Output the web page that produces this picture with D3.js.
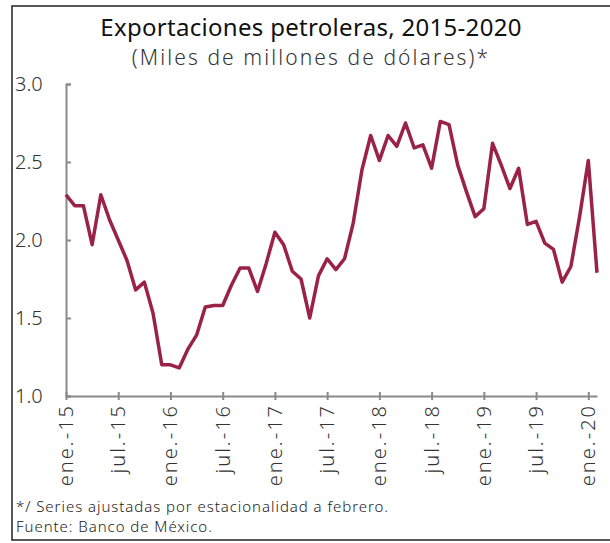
<!DOCTYPE html>
<html>
<head>
<meta charset="utf-8">
<script src="https://cdn.jsdelivr.net/npm/d3@7"></script>
<style>
  body { margin: 0; background: #fff; }
  svg { display: block; font-family: "Noto Sans", sans-serif; }
</style>
</head>
<body>
<div id="chart"></div>
<script>
const W = 610, H = 543;
const margin = { top: 84, right: 13, bottom: 147, left: 66 };

// monthly values, ene-15 .. feb-20
const months = d3.range(62).map(i => new Date(2015, i, 1));
const values = [
  2.29, 2.22, 2.22, 1.97, 2.29, 2.13, 2.00, 1.87, 1.68, 1.73, 1.53, 1.20,
  1.20, 1.18, 1.30, 1.39, 1.57, 1.58, 1.58, 1.71, 1.82, 1.82, 1.67, 1.85,
  2.05, 1.97, 1.80, 1.75, 1.50, 1.77, 1.88, 1.81, 1.88, 2.11, 2.45, 2.67,
  2.51, 2.67, 2.60, 2.75, 2.59, 2.61, 2.46, 2.76, 2.74, 2.48, 2.31, 2.15,
  2.20, 2.62, 2.48, 2.33, 2.46, 2.10, 2.12, 1.98, 1.94, 1.73, 1.83, 2.15,
  2.51, 1.79
];
const monthNames = ["ene.", "feb.", "mar.", "abr.", "may.", "jun.", "jul.", "ago.", "sep.", "oct.", "nov.", "dic."];
const yTicks = [1.0, 1.5, 2.0, 2.5, 3.0];
const title = "Exportaciones petroleras, 2015-2020";
const subtitle = "(Miles de millones de dólares)*";
const notes = ["*/ Series ajustadas por estacionalidad a febrero.", "Fuente: Banco de México."];

const svg = d3.select("#chart").append("svg")
  .attr("width", W)
  .attr("height", H);

// outer frame
svg.append("rect")
  .attr("x", 12).attr("y", 6)
  .attr("width", W + 10).attr("height", 534)
  .attr("fill", "none")
  .attr("stroke", "#222")
  .attr("stroke-width", 1.5);

svg.append("text")
  .attr("x", 311).attr("y", 36)
  .attr("text-anchor", "middle")
  .attr("font-size", 24)
  .attr("letter-spacing", 0.3)
  .attr("fill", "#111")
  .text(title);

svg.append("text")
  .attr("x", 311).attr("y", 65)
  .attr("text-anchor", "middle")
  .attr("font-size", 21)
  .attr("font-weight", 300)
  .attr("letter-spacing", 2.1)
  .attr("fill", "#333")
  .text(subtitle);

// months evenly spaced by index
const xi = d3.scaleLinear().domain([0, months.length - 1]).range([margin.left, 597]);

const y = d3.scaleLinear()
  .domain([1.0, 3.0])
  .range([396, 84]);

// y axis
const yAxis = svg.append("g")
  .attr("transform", `translate(${margin.left},0)`)
  .call(d3.axisRight(y).tickValues(yTicks).tickSize(5).tickFormat(""));
yAxis.select(".domain").attr("stroke", "#8a8a8a").attr("stroke-width", 2);
yAxis.selectAll(".tick line").attr("stroke", "#8a8a8a").attr("stroke-width", 2);

svg.selectAll("text.ylab")
  .data(yTicks)
  .join("text")
  .attr("class", "ylab")
  .attr("x", 15)
  .attr("y", d => y(d) + 7)
  .attr("font-size", 20)
  .attr("font-weight", 300)
  .attr("fill", "#333")
  .text(d => d.toFixed(1));

// x axis
const tickIdx = d3.range(0, 61, 6);
const xAxis = svg.append("g")
  .attr("transform", "translate(0,396)")
  .call(d3.axisBottom(xi).tickValues(tickIdx).tickSize(4).tickSizeOuter(0).tickFormat(""));
xAxis.select(".domain").attr("stroke", "#8a8a8a").attr("stroke-width", 2);
xAxis.selectAll(".tick line")
  .attr("y1", -4)
  .attr("y2", 4)
  .attr("stroke", "#8a8a8a").attr("stroke-width", 2);

svg.selectAll("text.xlab")
  .data(tickIdx)
  .join("text")
  .attr("class", "xlab")
  .attr("transform", d => `translate(${xi(d) + 7},404) rotate(-90)`)
  .attr("text-anchor", "end")
  .attr("font-size", 20)
  .attr("font-weight", 300)
  .attr("letter-spacing", 2.0)
  .attr("fill", "#333")
  .text(d => monthNames[months[d].getMonth()] + "-" + String(months[d].getFullYear()).slice(2));

// line
svg.append("path")
  .datum(values)
  .attr("fill", "none")
  .attr("stroke", "#9b2247")
  .attr("stroke-width", 3.5)
  .attr("stroke-linejoin", "round")
  .attr("d", d3.line().x((d, i) => xi(i)).y(d => y(d)));

svg.selectAll("text.note")
  .data(notes)
  .join("text")
  .attr("class", "note")
  .attr("x", 16)
  .attr("y", (d, i) => 512 + i * 20)
  .attr("font-size", 15)
  .attr("font-weight", 300)
  .attr("letter-spacing", 0.95)
  .attr("fill", "#222")
  .text(d => d);
</script>
</body>
</html>
